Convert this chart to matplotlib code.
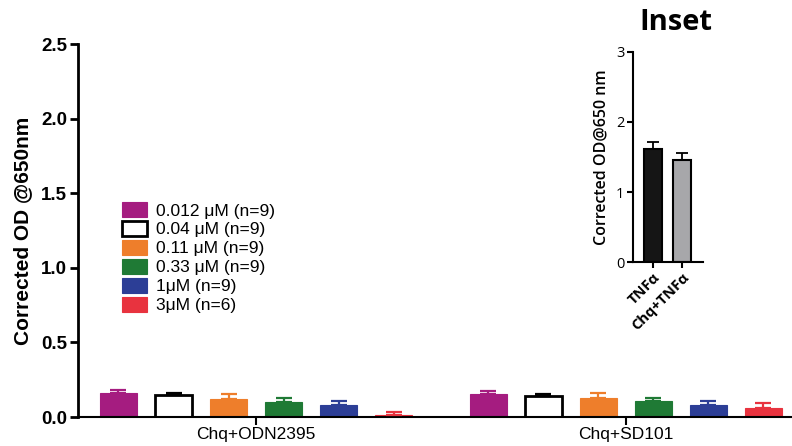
"""Corrected OD bar chart with TNFa inset."""

import matplotlib

matplotlib.use("Agg")
import matplotlib.pyplot as plt
import numpy as np
from matplotlib.patches import Patch

groups = ["Chq+ODN2395", "Chq+SD101"]
doses = [
    "0.012 \u03bcM (n=9)",
    "0.04 \u03bcM (n=9)",
    "0.11 \u03bcM (n=9)",
    "0.33 \u03bcM (n=9)",
    "1\u03bcM (n=9)",
    "3\u03bcM (n=6)",
]
dose_colors = ["#A51C80", "white", "#EE7E2B", "#1F7A35", "#2C3E96", "#E8333F"]
dose_edges = ["#A51C80", "black", "#EE7E2B", "#1F7A35", "#2C3E96", "#E8333F"]

# rows: dose, columns: group
means = np.array([
    [0.163, 0.154],
    [0.145, 0.139],
    [0.123, 0.130],
    [0.098, 0.107],
    [0.078, 0.078],
    [0.016, 0.060],
])
errors = np.array([
    [0.018, 0.020],
    [0.018, 0.017],
    [0.031, 0.031],
    [0.027, 0.020],
    [0.029, 0.029],
    [0.020, 0.034],
])

inset_labels = ["TNF\u03b1", "Chq+TNF\u03b1"]
inset_means = [1.61, 1.46]
inset_errors = [0.11, 0.10]
inset_colors = ["#151515", "#A7A7AA"]

plt.rcParams["font.family"] = ["Liberation Sans", "DejaVu Sans"]

fig = plt.figure(figsize=(7.92, 4.46), dpi=100)
ax = fig.add_axes([0.0985, 0.065, 0.9015, 0.836])

x = np.arange(len(groups))
step = 0.149
width = 0.1
for i in range(len(doses)):
    pos = x + (i - 2.5) * step
    edge_lw = 2.0 if dose_colors[i] == "white" else 0.8
    ax.bar(pos, means[i], width=width, color=dose_colors[i],
           edgecolor=dose_edges[i], linewidth=edge_lw, zorder=2)
    ax.errorbar(pos, means[i], yerr=[np.zeros(len(groups)), errors[i]],
                fmt="none", ecolor=dose_edges[i], elinewidth=1.6,
                capsize=6, capthick=1.6, zorder=3)

ax.set_xlim(-0.482, 1.45)
ax.set_ylim(0, 2.5)
ax.set_yticks([0, 0.5, 1.0, 1.5, 2.0, 2.5])
ax.set_yticklabels(["0.0", "0.5", "1.0", "1.5", "2.0", "2.5"],
                   fontsize=13.5, fontweight="bold")
ax.set_xticks(x)
ax.set_xticklabels(groups, fontsize=12.5)
ax.set_ylabel("Corrected OD @650nm", fontsize=15, fontweight="bold", labelpad=6)
for side in ["top", "right"]:
    ax.spines[side].set_visible(False)
ax.spines["left"].set_linewidth(2.0)
ax.spines["bottom"].set_linewidth(1.5)
ax.tick_params(axis="y", length=6, width=2.0, pad=2)
ax.tick_params(axis="x", length=6, width=1.5, pad=1)

handles = [Patch(facecolor=c, edgecolor=e, linewidth=2.0 if c == "white" else 0.8)
           for c, e in zip(dose_colors, dose_edges)]
ax.legend(handles, doses, loc="upper left", bbox_to_anchor=(0.052, 0.595),
          frameon=False, fontsize=12.5, handlelength=1.45, handleheight=0.95,
          handletextpad=0.5, labelspacing=0.14, borderaxespad=0)

# inset
ins = fig.add_axes([0.799, 0.412, 0.088, 0.472])
ix = np.arange(len(inset_labels))
ins.bar(ix, inset_means, width=0.62, color=inset_colors, edgecolor="black",
        linewidth=1.5, zorder=2)
ins.errorbar(ix, inset_means, yerr=[[0, 0], inset_errors], fmt="none",
             ecolor="black", elinewidth=1.3, capsize=4, capthick=1.3, zorder=3)
ins.set_xlim(-0.676, 1.69)
ins.set_ylim(0, 3)
ins.set_yticks([0, 1, 2, 3])
ins.set_yticklabels(["0", "1", "2", "3"], fontsize=10.5, family="Open Sans")
ins.set_xticks(ix)
ins.set_xticklabels(inset_labels, rotation=45, ha="right", rotation_mode="anchor",
                    fontsize=10.5, fontweight="bold", family="Open Sans")
ins.set_ylabel("Corrected OD@650 nm", fontsize=11.5, fontweight="semibold",
               family="Open Sans", labelpad=5)
for side in ["top", "right"]:
    ins.spines[side].set_visible(False)
ins.spines["left"].set_linewidth(1.5)
ins.spines["bottom"].set_linewidth(1.5)
ins.tick_params(length=4, width=1.5, pad=2)

fig.text(0.853, 0.95, "Inset", ha="center", va="center", fontsize=21,
         fontweight="bold", family="Open Sans")

fig.savefig("out.png", dpi=100)
